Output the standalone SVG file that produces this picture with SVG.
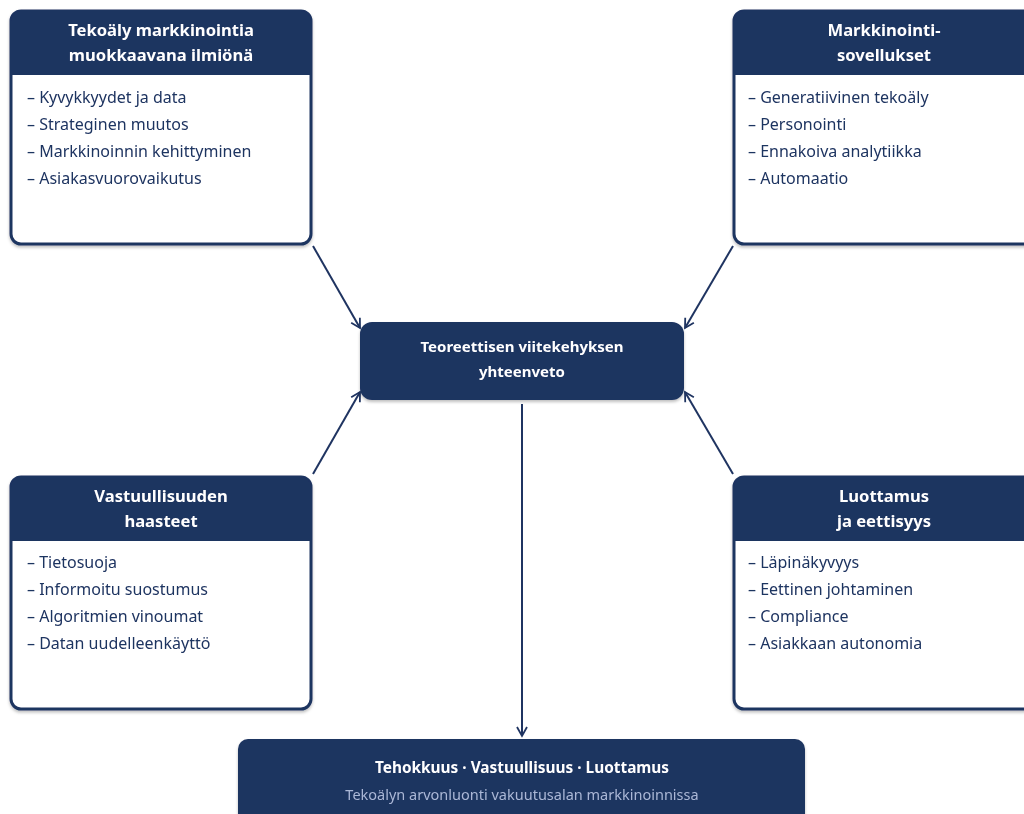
<svg xmlns="http://www.w3.org/2000/svg" width="1024" height="814" viewBox="0 0 1024 814">
<defs>
<marker id="ah" viewBox="0 0 12 12" refX="10" refY="6" markerWidth="12" markerHeight="12" markerUnits="userSpaceOnUse" orient="auto">
<path d="M1,1 L10,6 L1,11" fill="none" stroke="#1f3461" stroke-width="1.8"/>
</marker>
<filter id="sh" x="-5%" y="-5%" width="110%" height="115%">
<feDropShadow dx="0" dy="2" stdDeviation="1.5" flood-color="#000" flood-opacity="0.25"/>
</filter>
</defs>
<style>
.card{fill:#fff;stroke:#1f3461;stroke-width:3}
.hdr{fill:#1f3461}
.ht{font-family:"Noto Sans","Open Sans",sans-serif;font-weight:bold;font-size:16.6px;fill:#fff;text-anchor:middle}
.li{font-family:"Noto Sans","Open Sans",sans-serif;font-size:16px;fill:#1f3461}
.conn{stroke:#1f3461;stroke-width:2;fill:none;marker-end:url(#ah)}
.sub{font-family:"Noto Sans","Open Sans",sans-serif;font-size:14.5px;fill:#aab8d6;text-anchor:middle}
</style>
<rect width="1024" height="814" fill="#fff"/>
<g id="connectors">
<line class="conn" x1="313" y1="246" x2="360" y2="328"/>
<line class="conn" x1="733" y1="246" x2="685" y2="328"/>
<line class="conn" x1="313" y1="474" x2="360" y2="392"/>
<line class="conn" x1="733" y1="474" x2="685" y2="392"/>
<line class="conn" x1="522" y1="404" x2="522" y2="736"/>
</g>
<g id="n1" filter="url(#sh)">
<rect class="card" x="11" y="11" width="300" height="233" rx="10"/>
<path class="hdr" d="M21,11 H301 A10,10 0 0 1 311,21 V75 H11 V21 A10,10 0 0 1 21,11 Z"/>
<text class="ht" x="161" y="36">Tekoäly markkinointia</text>
<text class="ht" x="161" y="61">muokkaavana ilmiönä</text>
<text class="li" x="27" y="103">– Kyvykkyydet ja data</text>
<text class="li" x="27" y="130">– Strateginen muutos</text>
<text class="li" x="27" y="157">– Markkinoinnin kehittyminen</text>
<text class="li" x="27" y="184">– Asiakasvuorovaikutus</text>
</g>
<g id="n2" filter="url(#sh)">
<rect class="card" x="734" y="11" width="300" height="233" rx="10"/>
<path class="hdr" d="M744,11 H1024 A10,10 0 0 1 1034,21 V75 H734 V21 A10,10 0 0 1 744,11 Z"/>
<text class="ht" x="884" y="36">Markkinointi-</text>
<text class="ht" x="884" y="61">sovellukset</text>
<text class="li" x="748" y="103">– Generatiivinen tekoäly</text>
<text class="li" x="748" y="130">– Personointi</text>
<text class="li" x="748" y="157">– Ennakoiva analytiikka</text>
<text class="li" x="748" y="184">– Automaatio</text>
</g>
<g id="n3" filter="url(#sh)">
<rect class="card" x="11" y="477" width="300" height="232" rx="10"/>
<path class="hdr" d="M21,477 H301 A10,10 0 0 1 311,487 V541 H11 V487 A10,10 0 0 1 21,477 Z"/>
<text class="ht" x="161" y="502">Vastuullisuuden</text>
<text class="ht" x="161" y="527">haasteet</text>
<text class="li" x="27" y="568">– Tietosuoja</text>
<text class="li" x="27" y="595">– Informoitu suostumus</text>
<text class="li" x="27" y="622">– Algoritmien vinoumat</text>
<text class="li" x="27" y="649">– Datan uudelleenkäyttö</text>
</g>
<g id="n4" filter="url(#sh)">
<rect class="card" x="734" y="477" width="300" height="232" rx="10"/>
<path class="hdr" d="M744,477 H1024 A10,10 0 0 1 1034,487 V541 H734 V487 A10,10 0 0 1 744,477 Z"/>
<text class="ht" x="884" y="502">Luottamus</text>
<text class="ht" x="884" y="527">ja eettisyys</text>
<text class="li" x="748" y="568">– Läpinäkyvyys</text>
<text class="li" x="748" y="595">– Eettinen johtaminen</text>
<text class="li" x="748" y="622">– Compliance</text>
<text class="li" x="748" y="649">– Asiakkaan autonomia</text>
</g>
<g id="center" filter="url(#sh)">
<rect class="hdr" x="360" y="322" width="324" height="78" rx="12"/>
<text class="ht" x="522" y="352" style="font-size:15px">Teoreettisen viitekehyksen</text>
<text class="ht" x="522" y="377" style="font-size:15px">yhteenveto</text>
</g>
<g id="bottom" filter="url(#sh)">
<rect class="hdr" x="238" y="739" width="567" height="90" rx="10"/>
<text class="ht" x="522" y="773" style="font-size:15.4px">Tehokkuus · Vastuullisuus · Luottamus</text>
<text class="sub" x="522" y="800">Tekoälyn arvonluonti vakuutusalan markkinoinnissa</text>
</g>
</svg>
